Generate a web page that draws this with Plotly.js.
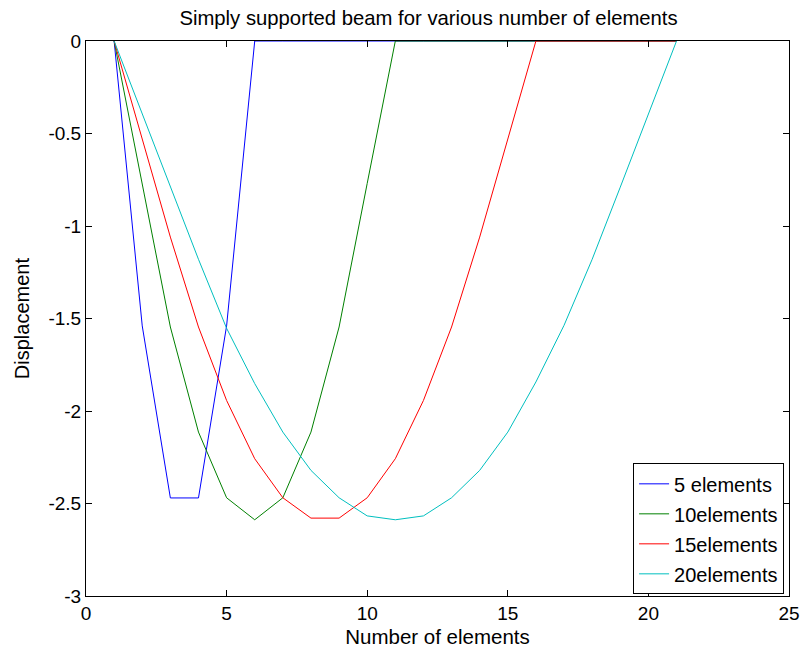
<!DOCTYPE html>
<html>
<head>
<meta charset="utf-8">
<script src="https://cdn.plot.ly/plotly-3.0.1.min.js"></script>
<style>html,body{margin:0;padding:0;background:#fff;}#chart{width:804px;height:658px;}</style>
</head>
<body>
<div id="chart"></div>
<script>
const nodes = [1,2,3,4,5,6,7,8,9,10,11,12,13,14,15,16,17,18,19,20,21];
const elements5  = [0,-1.54,-2.47,-2.47,-1.54,0,0,0,0,0,0,0,0,0,0,0,0,0,0,0,0];
const elements10 = [0,-0.77,-1.546,-2.114,-2.469,-2.588,-2.469,-2.114,-1.546,-0.77,0,0,0,0,0,0,0,0,0,0,0];
const elements15 = [0,-0.53,-1.06,-1.546,-1.943,-2.258,-2.469,-2.579,-2.579,-2.469,-2.258,-1.943,-1.546,-1.06,-0.53,0,0,0,0,0,0];
const elements20 = [0,-0.39,-0.79,-1.18,-1.553,-1.852,-2.114,-2.321,-2.469,-2.567,-2.588,-2.567,-2.469,-2.321,-2.114,-1.843,-1.537,-1.18,-0.79,-0.39,0];
const seriesNames = ['5 elements','10elements','15elements','20elements'];
const xTickVals = [0,5,10,15,20,25];
const xTickText = ['0','5','10','15','20','25'];
const yTickVals = [-3,-2.5,-2,-1.5,-1,-0.5,0];
const yTickText = ['-3','-2.5','-2','-1.5','-1','-0.5','0'];

const colors = ['#0000FF','#008000','#FF0000','#00BFBF'];
const data = [elements5, elements10, elements15, elements20].map((ys,i)=>({
  x: nodes, y: ys, type:'scatter', mode:'lines', name: seriesNames[i],
  legendgroup: 'g'+i,
  line:{color:colors[i], width:1}
}));
const font = {family:'"Liberation Sans", Arial, sans-serif', color:'#000'};
const axisCommon = {
  showgrid:false, zeroline:false, showline:true, linecolor:'#000', linewidth:1,
  mirror:'ticks', ticks:'inside', ticklen:6, tickcolor:'#000',
  tickfont:Object.assign({size:19}, font)
};
const layout = {
  width:804, height:658,
  margin:{l:86, r:15, t:41, b:62},
  paper_bgcolor:'#fff', plot_bgcolor:'#fff',
  font: font,
  title:{text:'Simply supported beam for various number of elements', font:Object.assign({size:20.3}, font), x:0.533, xanchor:'center', y:0.973, yanchor:'middle'},
  xaxis:Object.assign({}, axisCommon, {range:[0,25], tickvals:xTickVals, ticktext:xTickText,
    title:{text:'Number of elements', font:Object.assign({size:20.5}, font), standoff:6}}),
  yaxis:Object.assign({}, axisCommon, {range:[-3,0], tickvals:yTickVals, ticktext:yTickText}),
  annotations:[{text:'Displacement', xref:'paper', yref:'paper', x:-0.0915, y:0.5, xanchor:'center', yanchor:'middle',
    textangle:-90, showarrow:false, font:Object.assign({size:20}, font)}],
  legend:{x:0.993, y:0.003, xanchor:'right', yanchor:'bottom', bgcolor:'#fff',
    bordercolor:'#000', borderwidth:1, font:Object.assign({size:20}, font), tracegroupgap:1},
  showlegend:true
};
Plotly.newPlot('chart', data, layout, {displayModeBar:false, staticPlot:true});
</script>
</body>
</html>
